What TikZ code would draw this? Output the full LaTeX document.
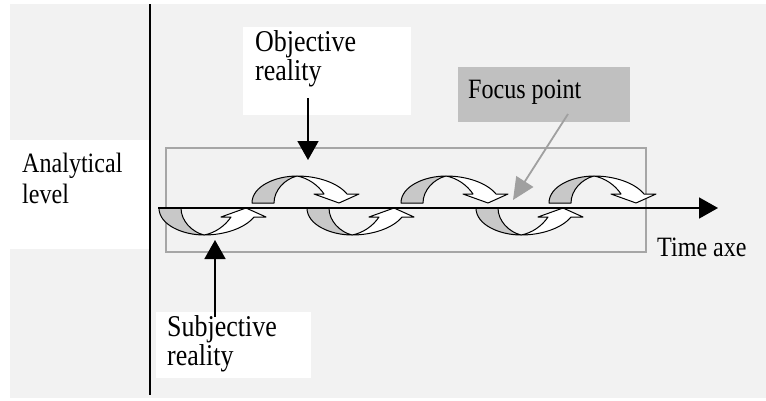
\documentclass[tikz,border=0pt]{standalone}
\usepackage{fontspec}
\setmainfont{Liberation Serif}[FakeStretch=0.86]
\usetikzlibrary{arrows.meta}
\definecolor{canvas}{HTML}{F2F2F2}
\definecolor{backside}{HTML}{C8C8C8}
\definecolor{focusfill}{HTML}{C0C0C0}
\definecolor{frame}{HTML}{A6A6A6}
\definecolor{pointer}{HTML}{A0A0A0}

\begin{document}
\begin{tikzpicture}[
    x=1pt,y=-1pt,
    txt/.style={anchor=base west,align=left,inner sep=0pt,font=\fontsize{28}{28}\selectfont},
    paper/.style={fill=white,draw=none,inner sep=0pt,anchor=north west},
    arr/.style={-{Triangle[length=19pt,width=21pt]},line width=1.8pt},
    cycle back/.style={fill=backside,draw=black,line width=1pt,line join=round},
    cycle front/.style={fill=white,draw=black,line width=1pt,line join=round},
    turn/.pic={
        \draw[cycle back] (0,0) .. controls (0,-17) and (24,-27) .. (45,-27)
            .. controls (33,-24) and (22,-13) .. (22,0) -- cycle;
        \draw[cycle front] (45,-27) .. controls (66,-27) and (86,-20) .. (95,-9)
            -- (107,-9) -- (87,0) -- (62,-9) -- (72,-9)
            .. controls (66,-18) and (56,-25) .. (45,-27) -- cycle;
    }
]
    \useasboundingbox (0,0) rectangle (766,400);
    \fill[canvas] (10,4) rectangle (766,398);

    % boxes
    \node[paper,minimum width=139pt,minimum height=109pt] (levelbox) at (10,140) {};
    \node[paper,minimum width=168pt,minimum height=88pt] (objbox) at (243,27) {};
    \node[paper,minimum width=155pt,minimum height=66pt] (subjbox) at (156,312) {};
    \node[paper,fill=focusfill,minimum width=172pt,minimum height=55pt] (focusbox) at (458,67) {};
    \node[draw=frame,line width=2pt,inner sep=0pt,anchor=north west,
          minimum width=480pt,minimum height=104pt] (window) at (165,147) {};

    % divider
    \coordinate (divtop) at (150,4);
    \coordinate (divbot) at (150,395);
    \draw[line width=2pt] (divtop) -- (divbot);

    % cycles
    \foreach \x in {252,401,549} \pic at (\x,203) {turn};
    \foreach \x in {159,307,476} \pic[yscale=-1] at (\x,208) {turn};

    % time axis
    \coordinate (t0) at (158,208);
    \coordinate (t1) at (718,208);
    \draw[arr] (t0) -- (t1);

    % labels (base = last line)
    \node[txt,font=\fontsize{28}{31}\selectfont] (level) at (22,203) {Analytical\\level};
    \node[txt,font=\fontsize{30.2}{22.5}\selectfont] (objective) at (255,80) {Objective\\reality};
    \node[txt,font=\fontsize{30.2}{26}\selectfont] (subjective) at (167,365) {Subjective\\reality};
    \node[txt] (focus) at (468,98) {Focus point};
    \node[txt] (timeaxe) at (657,256) {Time axe};

    % pointers
    \coordinate (objfoot) at (308,98);
    \coordinate (objtip) at (308,160);
    \coordinate (subjfoot) at (215,317);
    \coordinate (subjtip) at (215,240);
    \coordinate (focusfoot) at (568,114);
    \coordinate (focustip) at (513,200);
    \draw[arr] (objfoot) -- (objtip);
    \draw[arr] (subjfoot) -- (subjtip);
    \draw[arr,draw=pointer,fill=pointer,-{Triangle[length=22pt,width=20pt]}] (focusfoot) -- (focustip);
\end{tikzpicture}
\end{document}
